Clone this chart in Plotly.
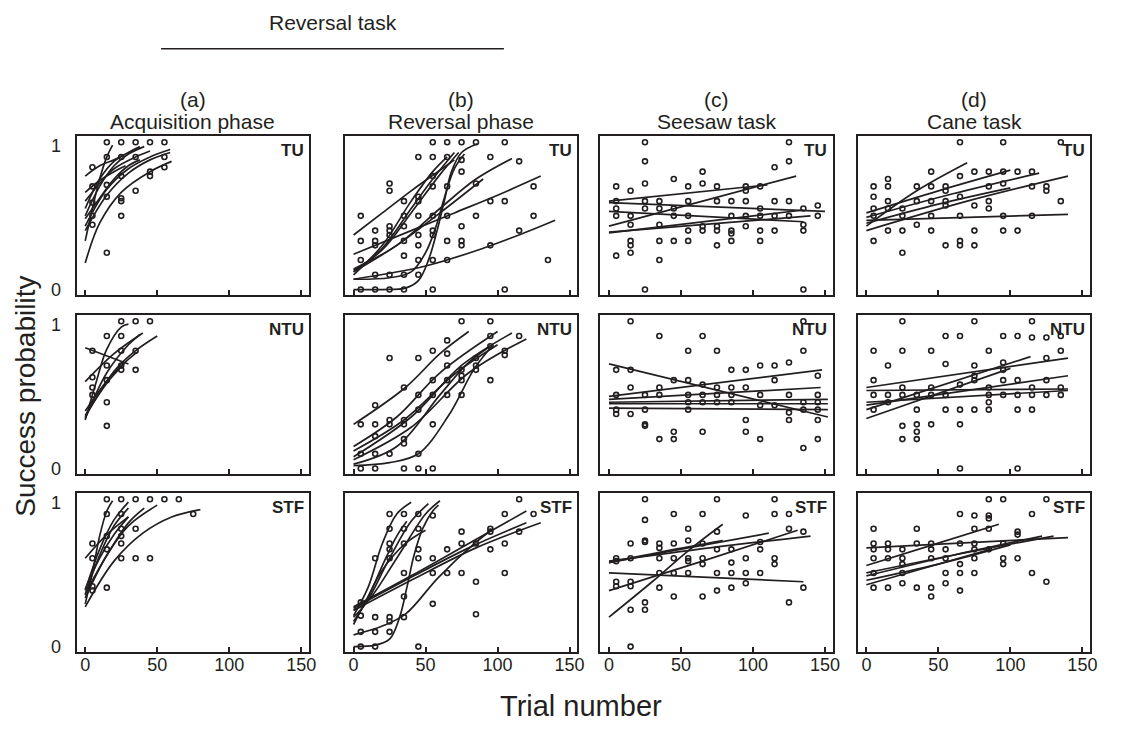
import plotly.graph_objects as go

# ---------------- data ----------------
# points: {trial-bin midpoint: [success proportions]}
acq_TU_pts = {5: [0.83, 0.70, 0.59, 0.50, 0.44], 15: [1.0, 0.9, 0.71, 0.63, 0.25],
              25: [1.0, 0.9, 0.77, 0.62, 0.60, 0.50], 35: [1.0, 0.9, 0.67],
              45: [1.0, 0.8, 0.77], 55: [1.0, 0.9, 0.83]}
rev_TU_pts = {5: [0.5, 0.33, 0.2, 0.0], 15: [0.40, 0.33, 0.30, 0.1, 0.0],
              25: [0.72, 0.67, 0.43, 0.40, 0.37, 0.1, 0.0], 35: [0.6, 0.5, 0.43, 0.33, 0.23, 0.1, 0.0],
              45: [0.9, 0.63, 0.6, 0.5, 0.37, 0.3, 0.2, 0.1], 55: [1.0, 0.9, 0.77, 0.7, 0.5, 0.4, 0.37, 0.2, 0.0],
              65: [1.0, 0.9, 0.7, 0.5, 0.33, 0.2], 75: [1.0, 0.88, 0.8, 0.43, 0.33, 0.3],
              85: [1.0, 0.72, 0.5], 95: [0.9, 0.6, 0.3], 105: [1.0, 0.6, 0.0],
              115: [0.87, 0.4], 125: [0.7, 0.5], 135: [0.2]}
see_TU_pts = {5: [0.7, 0.6, 0.55, 0.5, 0.23], 15: [0.67, 0.5, 0.44, 0.33, 0.3, 0.25],
              25: [1.0, 0.87, 0.72, 0.6, 0.55, 0.0], 35: [0.6, 0.55, 0.44, 0.33, 0.2],
              45: [0.75, 0.55, 0.5, 0.33], 55: [0.7, 0.6, 0.5, 0.4, 0.33], 65: [0.8, 0.72, 0.43, 0.4],
              75: [0.7, 0.6, 0.43, 0.4, 0.3], 85: [0.6, 0.5, 0.4, 0.38, 0.33],
              95: [0.7, 0.67, 0.6, 0.5, 0.43], 105: [0.7, 0.55, 0.5, 0.4, 0.33],
              115: [0.83, 0.6, 0.5, 0.4], 125: [1.0, 0.87, 0.6, 0.5], 135: [0.55, 0.44, 0.4, 0.0],
              145: [0.5, 0.57]}
cane_TU_pts = {5: [0.7, 0.63, 0.55, 0.5, 0.33], 15: [0.75, 0.7, 0.6, 0.55, 0.4],
               25: [0.55, 0.5, 0.4, 0.25], 35: [0.7, 0.6, 0.44], 45: [0.8, 0.7, 0.6, 0.5, 0.4],
               55: [0.7, 0.67, 0.6, 0.57, 0.3], 65: [1.0, 0.77, 0.63, 0.5, 0.33, 0.3],
               75: [0.8, 0.57, 0.4, 0.3], 85: [0.8, 0.7, 0.6, 0.55], 95: [1.0, 0.8, 0.72, 0.5, 0.4],
               105: [0.8, 0.4], 115: [0.8, 0.7, 0.5], 125: [0.7, 0.67], 135: [1.0, 0.6]}

acq_NTU_pts = {5: [0.8, 0.62, 0.55, 0.5], 15: [0.9, 0.7, 0.6, 0.45, 0.29],
               25: [1.0, 0.9, 0.8, 0.7, 0.67], 35: [1.0, 0.8, 0.67], 45: [1.0]}
rev_NTU_pts = {5: [0.3, 0.1, 0.0], 15: [0.43, 0.3, 0.22, 0.1, 0.0], 25: [0.75, 0.33, 0.3, 0.1],
               35: [0.55, 0.33, 0.3, 0.2, 0.17, 0.0], 45: [0.75, 0.5, 0.4, 0.1, 0.0],
               55: [0.8, 0.6, 0.5, 0.3, 0.0], 65: [0.87, 0.78, 0.7, 0.6, 0.5],
               75: [1.0, 0.67, 0.63, 0.6, 0.5], 85: [0.75, 0.7, 0.67], 95: [1.0, 0.9, 0.83, 0.6],
               105: [0.8, 0.77], 115: [0.9]}
see_NTU_pts = {5: [0.67, 0.5, 0.4, 0.37], 15: [1.0, 0.67, 0.55, 0.37], 25: [0.5, 0.4, 0.3, 0.29],
               35: [0.9, 0.55, 0.5, 0.2], 45: [0.6, 0.25, 0.2], 55: [0.8, 0.6, 0.5, 0.45, 0.4],
               65: [0.9, 0.57, 0.5, 0.45, 0.25], 75: [0.8, 0.55, 0.5, 0.45], 85: [0.67, 0.55, 0.5, 0.45],
               95: [0.67, 0.55, 0.33, 0.25], 105: [0.7, 0.5, 0.43, 0.2], 115: [0.7, 0.6, 0.43],
               125: [0.72, 0.5, 0.38, 0.33], 135: [1.0, 0.8, 0.45, 0.4, 0.14],
               145: [0.63, 0.5, 0.45, 0.4, 0.33, 0.2]}
cane_NTU_pts = {5: [0.8, 0.6, 0.5, 0.4], 15: [0.7, 0.5, 0.45], 25: [1.0, 0.8, 0.55, 0.5, 0.29, 0.2],
                35: [0.5, 0.4, 0.3, 0.25, 0.2], 45: [0.8, 0.55, 0.5, 0.3], 55: [0.9, 0.71, 0.5, 0.4],
                65: [0.9, 0.57, 0.4, 0.3, 0.0], 75: [1.0, 0.7, 0.63, 0.6, 0.4],
                85: [0.8, 0.55, 0.5, 0.45, 0.4], 95: [0.9, 0.72, 0.67, 0.6, 0.5],
                105: [0.9, 0.6, 0.5, 0.4, 0.0], 115: [1.0, 0.89, 0.55, 0.5, 0.4],
                125: [0.89, 0.75, 0.6, 0.5], 135: [0.9, 0.8, 0.55, 0.5]}

acq_STF_pts = {5: [0.7, 0.6, 0.41, 0.38], 15: [1.0, 0.9, 0.75, 0.66, 0.4],
               25: [1.0, 0.9, 0.8, 0.75, 0.7, 0.6], 35: [1.0, 0.8, 0.6], 45: [1.0, 0.6],
               55: [1.0], 65: [1.0], 75: [0.9]}
rev_STF_pts = {5: [0.3, 0.21, 0.1, 0.0], 15: [0.6, 0.2, 0.1, 0.0],
               25: [0.9, 0.8, 0.7, 0.66, 0.6, 0.2, 0.17, 0.1], 35: [0.9, 0.8, 0.7, 0.5, 0.34, 0.2],
               45: [0.9, 0.8, 0.66, 0.6, 0.0], 55: [0.89, 0.6, 0.5, 0.29], 65: [0.66, 0.5],
               75: [0.78, 0.7, 0.5], 85: [0.7, 0.44, 0.22], 95: [0.8, 0.78, 0.66],
               105: [0.9, 0.7, 0.5], 115: [1.0, 0.78], 125: [0.9]}
see_STF_pts = {5: [0.6, 0.58, 0.44, 0.41], 15: [0.7, 0.6, 0.44, 0.41, 0.25, 0.0],
               25: [1.0, 0.86, 0.72, 0.71, 0.3, 0.25], 35: [0.7, 0.67, 0.6, 0.5, 0.4],
               45: [0.9, 0.7, 0.6, 0.5, 0.34], 55: [0.8, 0.72, 0.6, 0.58, 0.5],
               65: [0.9, 0.7, 0.6, 0.56, 0.34], 75: [1.0, 0.78, 0.66, 0.5, 0.38],
               85: [0.66, 0.57, 0.5, 0.4], 95: [0.89, 0.6, 0.5, 0.43], 105: [0.71, 0.66, 0.5],
               115: [1.0, 0.9, 0.6, 0.56], 125: [0.9, 0.8, 0.3], 135: [0.78, 0.4]}
cane_STF_pts = {5: [0.8, 0.7, 0.66, 0.6, 0.5, 0.4], 15: [0.7, 0.66, 0.6, 0.4],
                25: [0.66, 0.6, 0.56, 0.5, 0.43], 35: [0.8, 0.7, 0.4], 45: [0.7, 0.66, 0.6, 0.4, 0.34],
                55: [0.66, 0.6, 0.5, 0.43], 65: [0.9, 0.7, 0.56, 0.5, 0.38],
                75: [0.89, 0.8, 0.7, 0.66, 0.6, 0.5], 85: [1.0, 0.89, 0.87, 0.8, 0.66],
                95: [1.0, 0.7, 0.6, 0.56], 105: [0.78, 0.76, 0.6], 115: [0.9, 0.5], 125: [1.0, 0.44]}

# fitted curves, read as (trial, probability) points along each curve
acq_TU_curves = [
    [(0, 0.18), (10, 0.45), (25, 0.66), (45, 0.80), (60, 0.87)],
    [(0, 0.33), (5, 0.55), (10, 0.75), (15, 0.90), (19, 0.98)],
    [(0, 0.43), (15, 0.68), (30, 0.82), (45, 0.90), (59, 0.95)],
    [(0, 0.40), (15, 0.64), (30, 0.79), (45, 0.88), (59, 0.93)],
    [(0, 0.50), (10, 0.70), (20, 0.84), (30, 0.92), (41, 0.97)],
    [(0, 0.55), (10, 0.75), (20, 0.87), (30, 0.93), (38, 0.97)],
    [(0, 0.77), (10, 0.84), (20, 0.88), (26, 0.91)],
    [(0, 0.66), (10, 0.74), (20, 0.80), (28, 0.84)],
    [(0, 0.60), (10, 0.72), (20, 0.82), (35, 0.90), (45, 0.94)],
    [(0, 0.48), (10, 0.62), (20, 0.75), (30, 0.84), (38, 0.88)]]
rev_TU_curves = [
    [(0, 0.37), (20, 0.52), (40, 0.67), (60, 0.81), (70, 0.88)],
    [(0, 0.24), (40, 0.40), (70, 0.52), (100, 0.64), (130, 0.77)],
    [(0, 0.07), (50, 0.16), (90, 0.28), (120, 0.39), (140, 0.47)],
    [(0, 0.14), (30, 0.30), (60, 0.55), (85, 0.75), (110, 0.89)],
    [(0, 0.12), (30, 0.30), (60, 0.52), (90, 0.75)],
    [(0, 0.0), (20, 0.0), (36, 0.01), (45, 0.06), (52, 0.2), (58, 0.4), (63, 0.6), (68, 0.8), (75, 0.93), (86, 0.99)],
    [(0, 0.07), (25, 0.08), (40, 0.12), (50, 0.25), (57, 0.42), (63, 0.62), (70, 0.82), (77, 0.92)],
    [(0, 0.12), (20, 0.28), (40, 0.55), (55, 0.75), (70, 0.93)],
    [(0, 0.10), (20, 0.30), (40, 0.60), (55, 0.80), (65, 0.90)],
    [(0, 0.13), (20, 0.27), (40, 0.52), (60, 0.78), (73, 0.93)]]
see_TU_curves = [
    [(0, 0.60), (110, 0.71)],
    [(0, 0.43), (65, 0.60), (130, 0.77)],
    [(0, 0.59), (150, 0.53)],
    [(0, 0.53), (135, 0.46)],
    [(0, 0.39), (140, 0.50)],
    [(0, 0.385), (135, 0.54)]]
cane_TU_curves = [
    [(0, 0.43), (35, 0.67), (70, 0.86)],
    [(0, 0.52), (50, 0.67), (100, 0.81)],
    [(0, 0.49), (60, 0.65), (120, 0.79)],
    [(0, 0.40), (70, 0.60), (140, 0.77)],
    [(0, 0.47), (140, 0.51)],
    [(0, 0.45), (50, 0.58), (100, 0.69)]]

acq_NTU_curves = [
    [(0, 0.82), (30, 0.71)],
    [(0, 0.33), (8, 0.60), (15, 0.81), (25, 0.96), (30, 0.98)],
    [(0, 0.59), (20, 0.78), (40, 0.92)],
    [(0, 0.34), (15, 0.65), (30, 0.84), (38, 0.91)],
    [(0, 0.35), (20, 0.66), (35, 0.80), (50, 0.90)],
    [(0, 0.39), (18, 0.63), (36, 0.79)],
    [(0, 0.36), (15, 0.58), (27, 0.71)]]
rev_NTU_curves = [
    [(0, 0.30), (36, 0.55), (60, 0.78), (80, 0.93)],
    [(0, 0.15), (30, 0.35), (60, 0.65), (100, 0.93)],
    [(0, 0.08), (40, 0.35), (75, 0.70), (110, 0.92)],
    [(0, 0.06), (40, 0.28), (80, 0.65), (120, 0.88)],
    [(0, 0.03), (30, 0.15), (60, 0.50), (80, 0.72), (95, 0.83)],
    [(0, 0.12), (35, 0.33), (70, 0.64), (100, 0.84)],
    [(0, 0.02), (25, 0.04), (45, 0.10), (66, 0.36), (84, 0.68), (97, 0.84)]]
see_NTU_curves = [
    [(0, 0.71), (152, 0.35)],
    [(0, 0.49), (148, 0.67)],
    [(0, 0.47), (147, 0.55)],
    [(0, 0.45), (152, 0.47)],
    [(0, 0.41), (152, 0.40)],
    [(0, 0.44), (152, 0.44)]]
cane_NTU_curves = [
    [(0, 0.55), (140, 0.75)],
    [(0, 0.53), (140, 0.54)],
    [(0, 0.43), (140, 0.63)],
    [(0, 0.40), (114, 0.76)],
    [(0, 0.34), (100, 0.68)],
    [(0, 0.45), (140, 0.53)]]

acq_STF_curves = [
    [(0, 0.60), (15, 0.76), (30, 0.88)],
    [(0, 0.29), (5, 0.50), (10, 0.75), (15, 0.92), (19, 0.99)],
    [(0, 0.38), (10, 0.66), (20, 0.86), (30, 0.98)],
    [(0, 0.35), (10, 0.62), (20, 0.82), (30, 0.94)],
    [(0, 0.39), (10, 0.60), (20, 0.76), (30, 0.88)],
    [(0, 0.33), (15, 0.62), (30, 0.82), (50, 0.96)],
    [(0, 0.36), (15, 0.62), (30, 0.84), (41, 0.94)],
    [(0, 0.27), (20, 0.58), (40, 0.77), (60, 0.88), (80, 0.93)]]
rev_STF_curves = [
    [(0, 0.21), (10, 0.40), (20, 0.70), (30, 0.90), (40, 0.98)],
    [(0, 0.20), (9, 0.30), (25, 0.60), (40, 0.85), (52, 0.97)],
    [(0, 0.25), (9, 0.30), (30, 0.60), (50, 0.90), (60, 0.99)],
    [(0, 0.17), (9, 0.31), (20, 0.55), (30, 0.75), (37, 0.85)],
    [(0, 0.15), (9, 0.32), (20, 0.52), (36, 0.70), (50, 0.79)],
    [(0, 0.0), (15, 0.01), (25, 0.05), (32, 0.20), (37, 0.40), (42, 0.62), (48, 0.80), (55, 0.92), (59, 0.96)],
    [(0, 0.27), (40, 0.48), (80, 0.70), (120, 0.92)],
    [(0, 0.26), (40, 0.47), (80, 0.67), (120, 0.84)],
    [(0, 0.245), (40, 0.45), (85, 0.67), (130, 0.84)],
    [(0, 0.08), (20, 0.14), (36, 0.22), (59, 0.47), (84, 0.70), (97, 0.80)]]
see_STF_curves = [
    [(0, 0.20), (30, 0.44), (55, 0.65), (79, 0.83)],
    [(0, 0.38), (65, 0.58), (131, 0.79)],
    [(0, 0.58), (70, 0.67), (140, 0.75)],
    [(0, 0.57), (55, 0.67), (111, 0.77)],
    [(0, 0.57), (40, 0.65), (79, 0.72)],
    [(0, 0.50), (135, 0.44)]]
cane_STF_curves = [
    [(0, 0.55), (46, 0.69), (92, 0.83)],
    [(0, 0.67), (140, 0.74)],
    [(0, 0.50), (65, 0.63), (130, 0.75)],
    [(0, 0.48), (60, 0.62), (122, 0.75)],
    [(0, 0.45), (50, 0.56), (100, 0.69)],
    [(0, 0.42), (43, 0.54), (86, 0.66)]]

group_labels = ["TU", "NTU", "STF"]
column_letters = ["(a)", "(b)", "(c)", "(d)"]
column_titles = ["Acquisition phase", "Reversal phase", "Seesaw task", "Cane task"]
x_ticks = [0, 50, 100, 150]
y_tick_labels = ["0", "1"]

panels = [
    [(acq_TU_pts, acq_TU_curves), (rev_TU_pts, rev_TU_curves), (see_TU_pts, see_TU_curves), (cane_TU_pts, cane_TU_curves)],
    [(acq_NTU_pts, acq_NTU_curves), (rev_NTU_pts, rev_NTU_curves), (see_NTU_pts, see_NTU_curves), (cane_NTU_pts, cane_NTU_curves)],
    [(acq_STF_pts, acq_STF_curves), (rev_STF_pts, rev_STF_curves), (see_STF_pts, see_STF_curves), (cane_STF_pts, cane_STF_curves)],
]

# ---------------- layout geometry ----------------
W, H = 1140, 738
FONT = "Liberation Sans, Arial, sans-serif"
INK = "#231f20"
col_px = [(69.0, 303.0), (339.0, 573.0), (596.0, 830.0), (855.0, 1089.0)]
row_px = [(129.0, 289.0), (309.0, 469.0), (488.0, 648.0)]

fig = go.Figure()
layout = dict(
    width=W, height=H, margin=dict(l=0, r=0, t=0, b=0),
    paper_bgcolor="white", plot_bgcolor="white", showlegend=False,
    font=dict(family=FONT, color=INK, size=18),
)
annotations = []

for r in range(3):
    for c in range(4):
        k = r * 4 + c + 1
        xs = "" if k == 1 else str(k)
        pts, curves = panels[r][c]
        px, py = [], []
        for xv, ys in pts.items():
            for yv in ys:
                px.append(xv)
                py.append(yv)
        for cv in curves:
            fig.add_trace(go.Scatter(
                x=[p[0] for p in cv], y=[p[1] for p in cv], mode="lines",
                line=dict(color=INK, width=1.7, shape="spline", smoothing=1.0),
                xaxis="x" + xs, yaxis="y" + xs, hoverinfo="skip"))
        fig.add_trace(go.Scatter(
            x=px, y=py, mode="markers",
            marker=dict(symbol="circle-open", size=5, color=INK, line=dict(width=1.6, color=INK)),
            xaxis="x" + xs, yaxis="y" + xs))
        x0, x1 = col_px[c]
        t0, t1 = row_px[r]
        layout["xaxis" + xs] = dict(
            domain=[x0 / W, x1 / W], anchor="y" + xs, range=[-6.0, 155.5],
            tickvals=x_ticks, ticks="inside", ticklen=6, tickwidth=1.5, tickcolor=INK,
            showticklabels=(r == 2), tickfont=dict(size=18, family=FONT, color=INK),
            ticklabelstandoff=-5,
            showline=True, mirror=True, linecolor=INK, linewidth=1.8,
            showgrid=False, zeroline=False, fixedrange=True)
        layout["yaxis" + xs] = dict(
            domain=[1 - t1 / H, 1 - t0 / H], anchor="x" + xs, range=[-0.04, 1.04],
            tickvals=[0, 0.975], ticktext=y_tick_labels, ticks="",
            showticklabels=(c == 0), tickfont=dict(size=18, family=FONT, color=INK),
            ticklabelstandoff=10,
            showline=True, mirror=True, linecolor=INK, linewidth=1.8,
            showgrid=False, zeroline=False, fixedrange=True)
        annotations.append(dict(
            text="<b>%s</b>" % group_labels[r], xref="x%s domain" % xs, yref="y%s domain" % xs,
            x=0.985, y=0.985, xanchor="right", yanchor="top", showarrow=False,
            font=dict(size=17, family=FONT, color=INK)))

# column headers
for c in range(4):
    cx = (col_px[c][0] + col_px[c][1]) / 2 / W
    annotations.append(dict(text=column_letters[c], xref="paper", yref="paper", x=cx, y=1 - 92 / H,
                            xanchor="center", yanchor="middle", showarrow=False,
                            font=dict(size=21, family=FONT, color=INK)))
    annotations.append(dict(text=column_titles[c], xref="paper", yref="paper", x=cx, y=1 - 114 / H,
                            xanchor="center", yanchor="middle", showarrow=False,
                            font=dict(size=21, family=FONT, color=INK)))

annotations.append(dict(text="Reversal task", xref="paper", yref="paper", x=327 / W, y=1 - 15 / H,
                        xanchor="center", yanchor="middle", showarrow=False,
                        font=dict(size=21, family=FONT, color=INK)))
annotations.append(dict(text="Trial number", xref="paper", yref="paper", x=577 / W, y=1 - 702 / H,
                        xanchor="center", yanchor="middle", showarrow=False,
                        font=dict(size=29, family=FONT, color=INK)))
annotations.append(dict(text="Success probability", xref="paper", yref="paper", x=18 / W, y=1 - 390 / H,
                        xanchor="center", yanchor="middle", showarrow=False, textangle=-90,
                        font=dict(size=28, family=FONT, color=INK)))

layout["annotations"] = annotations
layout["shapes"] = [dict(type="line", xref="paper", yref="paper", x0=154 / W, x1=499 / W,
                         y0=1 - 41 / H, y1=1 - 41 / H, line=dict(color=INK, width=1.6))]
fig.update_layout(**layout)
fig.write_html("out.html")
